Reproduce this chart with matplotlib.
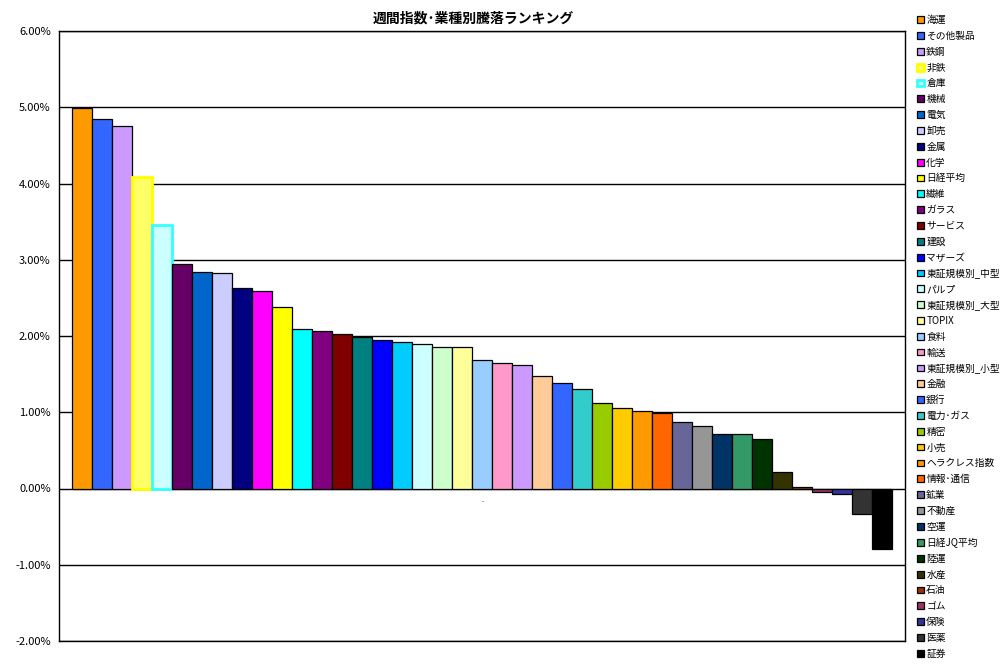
import matplotlib
matplotlib.use("Agg")
import matplotlib.pyplot as plt
from matplotlib.ticker import FuncFormatter

plt.rcParams['font.family'] = ['Noto Sans CJK JP', 'DejaVu Sans']

# 業種 / 指数 (降順)
names = ['海運', 'その他製品', '鉄鋼', '非鉄', '倉庫', '機械', '電気', '卸売', '金属', '化学',
         '日経平均', '繊維', 'ガラス', 'サービス', '建設', 'マザーズ', '東証規模別_中型', 'パルプ',
         '東証規模別_大型', 'TOPIX', '食料', '輸送', '東証規模別_小型', '金融', '銀行', '電力･ガス',
         '精密', '小売', 'ヘラクレス指数', '情報･通信', '鉱業', '不動産', '空運', '日経JQ平均',
         '陸運', '水産', '石油', 'ゴム', '保険', '医薬', '証券']

# 週間騰落率 (%)
changes = [4.99, 4.84, 4.75, 4.09, 3.45, 2.94, 2.84, 2.82, 2.63, 2.59,
           2.38, 2.09, 2.06, 2.02, 1.99, 1.95, 1.92, 1.90, 1.86, 1.86,
           1.68, 1.64, 1.62, 1.47, 1.39, 1.30, 1.12, 1.05, 1.01, 0.99,
           0.87, 0.82, 0.72, 0.72, 0.65, 0.21, 0.02, -0.05, -0.07, -0.33, -0.79]

fill_colors = ['#FF9900', '#3366FF', '#CC99FF', '#FFFF66', '#CCFFFF', '#660066', '#0066CC', '#CCCCFF',
               '#000080', '#FF00FF', '#FFFF00', '#00FFFF', '#800080', '#800000', '#008080', '#0000FF',
               '#00CCFF', '#CCFFFF', '#CCFFCC', '#FFFF99', '#99CCFF', '#FF99CC', '#CC99FF', '#FFCC99',
               '#3366FF', '#33CCCC', '#99CC00', '#FFCC00', '#FF9900', '#FF6600', '#666699', '#969696',
               '#003366', '#339966', '#003300', '#333300', '#993300', '#993366', '#333399', '#333333',
               '#000000']

edge_colors = ['black'] * len(names)
edge_colors[3] = '#FFFF00'
edge_colors[4] = '#33FFFF'

fig = plt.figure(figsize=(10.08, 6.65), dpi=100)
ax = fig.add_axes([59 / 1008, 24 / 665, 846 / 1008, 610 / 665])

for i, (n, v) in enumerate(zip(names, changes)):
    lw = 2.0 if edge_colors[i] != 'black' else 0.9
    ax.bar(i, v / 100, width=1.0, color=fill_colors[i], edgecolor=edge_colors[i],
           linewidth=lw, label=n, zorder=3)

ax.set_xlim(-1.15, len(names) - 1 + 1.15)
ax.set_ylim(-0.02, 0.06)
ax.set_yticks([i / 100 for i in range(-2, 7)])
ax.yaxis.set_major_formatter(FuncFormatter(lambda y, _: f'{y * 100:.2f}%'))
ax.tick_params(axis='y', length=0, labelsize=8, pad=6)
ax.set_xticks([])
ax.grid(axis='y', color='black', linewidth=1.0, zorder=1)
for s in ax.spines.values():
    s.set_color('black')
    s.set_linewidth(1.0)

ax.text((len(names) - 1) / 2, -0.001, '.', ha='center', va='top', fontsize=5)

ax.set_title('週間指数･業種別騰落ランキング', fontsize=10, fontweight='bold', pad=6, x=0.49)

fig.legend(loc='upper left', bbox_to_anchor=(917 / 1008, 1 - 15 / 665),
           frameon=False, fontsize=7, handlelength=0.7, handleheight=0.7,
           handletextpad=0.25, labelspacing=0.6, borderpad=0, borderaxespad=0)

fig.savefig('out.png', dpi=100)
